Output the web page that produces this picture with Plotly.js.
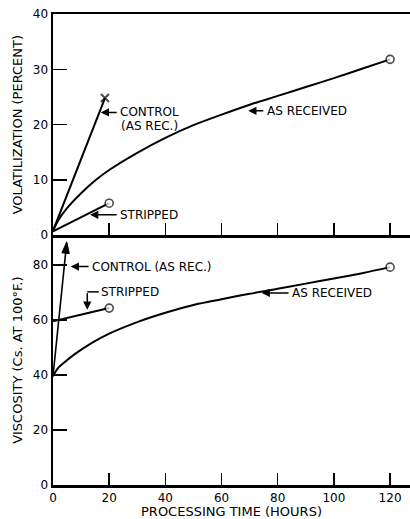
<!DOCTYPE html>
<html>
<head>
<meta charset="utf-8">
<script src="https://cdn.plot.ly/plotly-3.0.1.min.js"></script>
<style>html,body{margin:0;padding:0;background:#fff;}#chart{width:410px;height:519px;}</style>
</head>
<body>
<div id="chart"></div>
<script>
// ---- Volatilization (percent) vs processing time (hours) ----
var volARTime = [0, 2, 5, 10, 15, 20, 30, 40, 50, 60, 70, 80, 90, 100, 110, 120];
var volARValue = [0.8, 2.8, 4.9, 7.6, 9.9, 11.8, 14.9, 17.6, 19.9, 21.8, 23.6, 25.2, 26.8, 28.4, 30.1, 31.8];
var volControlTime = [0, 18.5];
var volControlValue = [0.8, 24.8];
var volStrippedTime = [0, 20];
var volStrippedValue = [0.7, 5.8];

// ---- Viscosity (cs at 100 F) vs processing time (hours) ----
var visARTime = [0, 1, 2, 4, 8, 14, 20, 30, 40, 50, 60, 70, 80, 90, 100, 110, 120];
var visARValue = [39.6, 41.4, 42.8, 44.6, 47.8, 51.8, 55.1, 59.3, 62.7, 65.5, 67.6, 69.6, 71.4, 73.3, 75.2, 77.1, 79.3];
var visControlTime = [0, 4.9];
var visControlValue = [39.6, 88.5];
var visStrippedTime = [0, 20];
var visStrippedValue = [59.6, 64.4];

// ---- Tick labels ----
var xTicks = [0, 20, 40, 60, 80, 100, 120];
var volTicks = [0, 10, 20, 30, 40];
var visTicks = [0, 20, 40, 60, 80];

var FONT = 'DejaVu Sans';
var lineStyle = {color: '#000', width: 2};
var openCircle = {symbol: 'circle', size: 8, color: '#fff', line: {color: '#000', width: 1.6}};

function endMarker(n, m) {
  var sizes = [];
  for (var i = 0; i < n; i++) sizes.push(i === n - 1 ? m.size : 0);
  return Object.assign({}, m, {size: sizes});
}

var traces = [
  {x: volARTime, y: volARValue, xaxis: 'x', yaxis: 'y', mode: 'lines+markers',
   line: Object.assign({shape: 'spline', smoothing: 0.8}, lineStyle),
   marker: endMarker(volARTime.length, openCircle), cliponaxis: false},
  {x: volControlTime, y: volControlValue, xaxis: 'x', yaxis: 'y', mode: 'lines+markers',
   line: lineStyle,
   marker: {symbol: 'x-thin-open', size: [0, 8], color: '#000', line: {color: '#000', width: 2}}},
  {x: volStrippedTime, y: volStrippedValue, xaxis: 'x', yaxis: 'y', mode: 'lines+markers',
   line: lineStyle, marker: endMarker(2, openCircle)},
  {x: visARTime, y: visARValue, xaxis: 'x2', yaxis: 'y2', mode: 'lines+markers',
   line: Object.assign({shape: 'spline', smoothing: 1}, lineStyle),
   marker: endMarker(visARTime.length, openCircle), cliponaxis: false},
  {x: visControlTime, y: visControlValue, xaxis: 'x2', yaxis: 'y2', mode: 'lines+markers',
   line: {color: '#000', width: 1.6}, cliponaxis: false,
   marker: {symbol: 'arrow', angleref: 'previous', size: [0, 12], color: '#000', opacity: 1,
     line: {color: '#000', width: 1}}},
  {x: visStrippedTime, y: visStrippedValue, xaxis: 'x2', yaxis: 'y2', mode: 'lines+markers',
   line: lineStyle, marker: endMarker(2, openCircle)}
];

var axisCommon = {
  showline: true, linecolor: '#000', linewidth: 2.5, showgrid: false, zeroline: false,
  ticks: 'inside', tickcolor: '#000', tickwidth: 1.5,
  tickfont: {family: FONT, size: 12, color: '#000'}, fixedrange: true
};
var xRange = [0, 127.1];
var split = 0.5302;
var titleFont = {family: FONT, size: 13, color: '#000'};

var layout = {
  width: 410, height: 519,
  margin: {l: 53, r: 0, t: 14, b: 33.5},
  paper_bgcolor: '#fff', plot_bgcolor: '#fff',
  showlegend: false,
  xaxis: Object.assign({}, axisCommon, {anchor: 'y', range: xRange, tickvals: xTicks.slice(1),
    showticklabels: false, ticklen: 12, mirror: true}),
  yaxis: Object.assign({}, axisCommon, {domain: [split, 1], range: [0, 40], tickvals: volTicks,
    ticklen: 14, anchor: 'x',
    title: {text: 'VOLATILIZATION (PERCENT)', font: titleFont, standoff: 8}}),
  xaxis2: Object.assign({}, axisCommon, {anchor: 'y2', range: xRange, tickvals: xTicks, ticklen: 12,
    title: {text: 'PROCESSING TIME (HOURS)', font: titleFont, standoff: 2}}),
  yaxis2: Object.assign({}, axisCommon, {domain: [0, split], range: [0, 90.9], tickvals: visTicks,
    ticklen: 14, anchor: 'x2',
    title: {text: 'VISCOSITY (Cs. AT 100°F.)', font: titleFont, standoff: 8}}),
  shapes: [
    {type: 'line', xref: 'x2', yref: 'y2', x0: 12.2, x1: 16.3, y0: 70.3, y1: 70.3,
     line: {color: '#000', width: 1.5}}
  ],
  annotations: []
};

var annFont = {family: FONT, size: 12, color: '#000'};
function arrow(xr, yr, x, y, ax, ay) {
  return {xref: xr, yref: yr, axref: xr, ayref: yr, x: x, y: y, ax: ax, ay: ay, text: '',
    showarrow: true, arrowhead: 2, arrowsize: 1.1, arrowwidth: 1.5, arrowcolor: '#000'};
}
function label(xr, yr, x, y, t) {
  return {xref: xr, yref: yr, x: x, y: y, text: t, showarrow: false, xanchor: 'left',
    yanchor: 'middle', font: annFont, borderpad: 0};
}
layout.annotations.push(
  arrow('x', 'y', 17.0, 22.2, 23.2, 22.2),
  label('x', 'y', 23.4, 22.2, 'CONTROL'),
  label('x', 'y', 23.8, 19.8, '(AS REC.)'),
  arrow('x', 'y', 69.5, 22.5, 75.4, 22.5),
  label('x', 'y', 75.7, 22.5, 'AS RECEIVED'),
  arrow('x', 'y', 13.2, 3.7, 23.2, 3.7),
  label('x', 'y', 23.5, 3.7, 'STRIPPED'),
  arrow('x2', 'y2', 6.3, 79.5, 13.2, 79.5),
  label('x2', 'y2', 13.6, 79.5, 'CONTROL (AS REC.)'),
  arrow('x2', 'y2', 12.2, 63.8, 12.2, 70.3),
  label('x2', 'y2', 16.6, 70.3, 'STRIPPED'),
  arrow('x2', 'y2', 74.3, 69.9, 84.4, 69.9),
  label('x2', 'y2', 84.8, 69.9, 'AS RECEIVED')
);

Plotly.newPlot('chart', traces, layout, {displayModeBar: false, staticPlot: true});
</script>
</body>
</html>
